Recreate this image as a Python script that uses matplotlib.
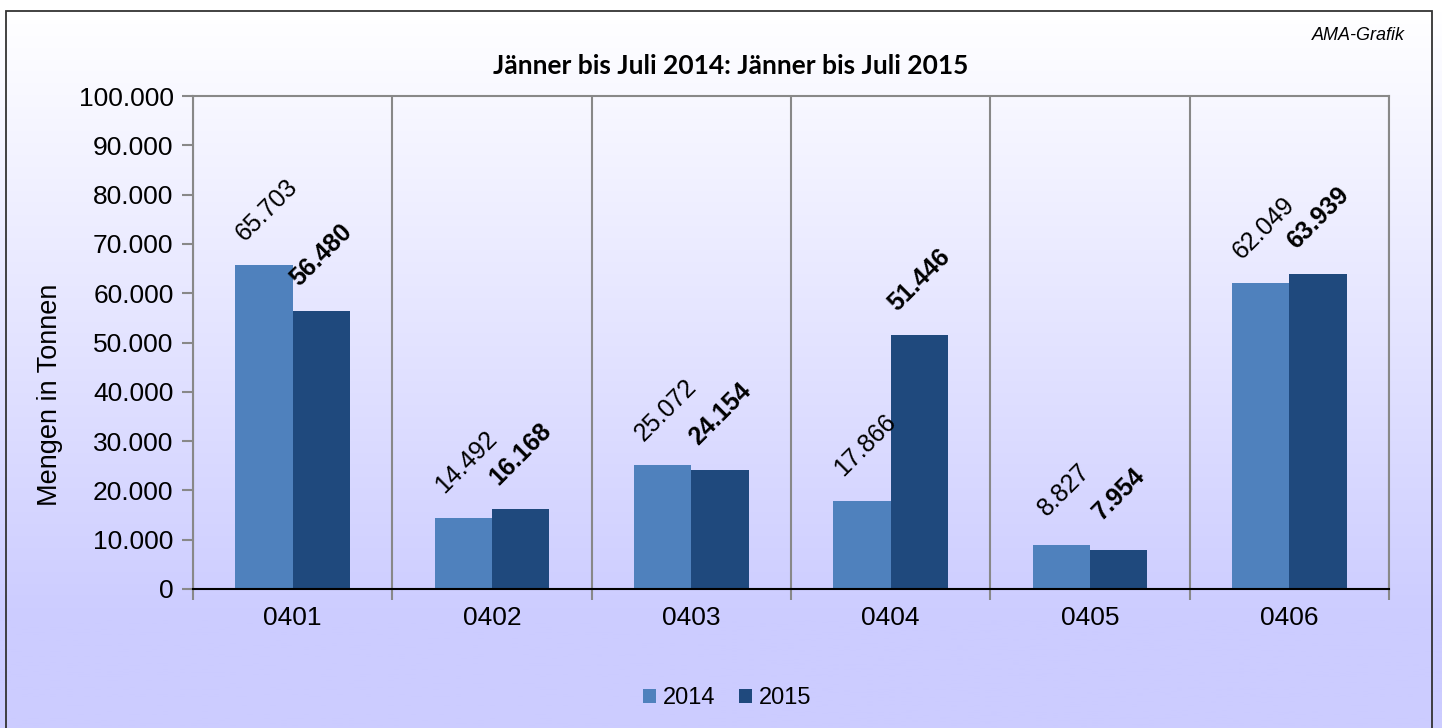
import numpy as np
import matplotlib
matplotlib.use("Agg")
import matplotlib.pyplot as plt
from matplotlib.patches import Rectangle
from matplotlib.ticker import FuncFormatter, FixedLocator

categories = ["0401", "0402", "0403", "0404", "0405", "0406"]
values_2014 = [65703, 14492, 25072, 17866, 8827, 62049]
values_2015 = [56480, 16168, 24154, 51446, 7954, 63939]
years = ["2014", "2015"]
colors = ["#4F81BD", "#1F497D"]

W, H = 1442, 728
plt.rcParams["font.family"] = ["Liberation Sans", "DejaVu Sans"]

fig = plt.figure(figsize=(W / 100, H / 100), dpi=100)

# background gradient (white at top, lavender at bottom)
bg = fig.add_axes([0, 0, 1, 1], zorder=-10)
rows = np.linspace(0, 1, 400)
t = np.clip((rows - 11 / H) / ((620 - 11) / H), 0, 1)
top = np.array([1.0, 1.0, 1.0])
bot = np.array([0xCC, 0xCC, 0xFF]) / 255
grad = top[None, :] * (1 - t[:, None]) + bot[None, :] * t[:, None]
bg.imshow(grad[:, None, :], aspect="auto", extent=[0, 1, 1, 0])
bg.set_axis_off()
fig.add_artist(Rectangle((6 / W, -0.1), (1432 - 6) / W, (H - 11) / H + 0.1,
                         transform=fig.transFigure, fill=False,
                         ec="#333333", lw=1.3))

ax = fig.add_axes([193 / W, 1 - 589 / H, (1389 - 193) / W, (589 - 96) / H])
ax.set_facecolor("none")

x = np.arange(len(categories))
bw = 0.287
b1 = ax.bar(x - bw / 2, values_2014, bw, color=colors[0], label=years[0], zorder=3)
b2 = ax.bar(x + bw / 2, values_2015, bw, color=colors[1], label=years[1], zorder=3)

fmt = lambda v: f"{v:,.0f}".replace(",", ".")
for xi, v in zip(x - bw / 2, values_2014):
    ax.annotate(fmt(v), (xi, v), xytext=(2, 40), textcoords="offset points",
                ha="center", va="center", rotation=45, fontsize=18, zorder=5)
for xi, v in zip(x + bw / 2, values_2015):
    ax.annotate(fmt(v), (xi, v), xytext=(0, 40), textcoords="offset points",
                ha="center", va="center", rotation=45, fontsize=18,
                fontweight="bold", zorder=5)

ax.set_xlim(-0.5, len(categories) - 0.5)
ax.set_ylim(0, 100000)
ax.set_yticks(np.arange(0, 100001, 10000))
ax.yaxis.set_major_formatter(FuncFormatter(lambda v, p: fmt(v)))
ax.set_xticks(x)
ax.set_xticklabels(categories)
ax.xaxis.set_minor_locator(FixedLocator(np.arange(-0.5, len(categories), 1.0)))
ax.tick_params(axis="x", which="major", length=0, pad=12, labelsize=19)
ax.tick_params(axis="x", which="minor", length=8, color="#888888", width=1.5)
ax.tick_params(axis="y", length=8, color="#888888", width=1.5, pad=6, labelsize=19)
ax.grid(axis="x", which="minor", color="#888888", lw=1.5, zorder=1)

for s in ["left", "top", "right"]:
    ax.spines[s].set_color("#888888")
    ax.spines[s].set_linewidth(1.5)
ax.spines["bottom"].set_color("black")
ax.spines["bottom"].set_linewidth(1.5)
ax.spines["bottom"].set_zorder(4)

fig.text(50 / W, 1 - 395 / H, "Mengen in Tonnen", rotation=90, fontsize=19.5,
         ha="center", va="center")
fig.text(731 / W, 1 - 66 / H, "Jänner bis Juli 2014: Jänner bis Juli 2015",
         fontsize=19, fontweight="bold", family=["Lato", "DejaVu Sans"],
         ha="center", va="center")
fig.text(1405 / W, 1 - 35 / H, "AMA-Grafik", fontsize=13, style="italic",
         ha="right", va="center")

fig.legend(handles=[b1, b2], labels=years, loc="center",
           bbox_to_anchor=(727 / W, 1 - 698 / H), ncol=2, frameon=False,
           fontsize=17, handlelength=0.55, handleheight=0.55,
           handletextpad=0.3, columnspacing=1.0)

fig.savefig("out.png", dpi=100)
